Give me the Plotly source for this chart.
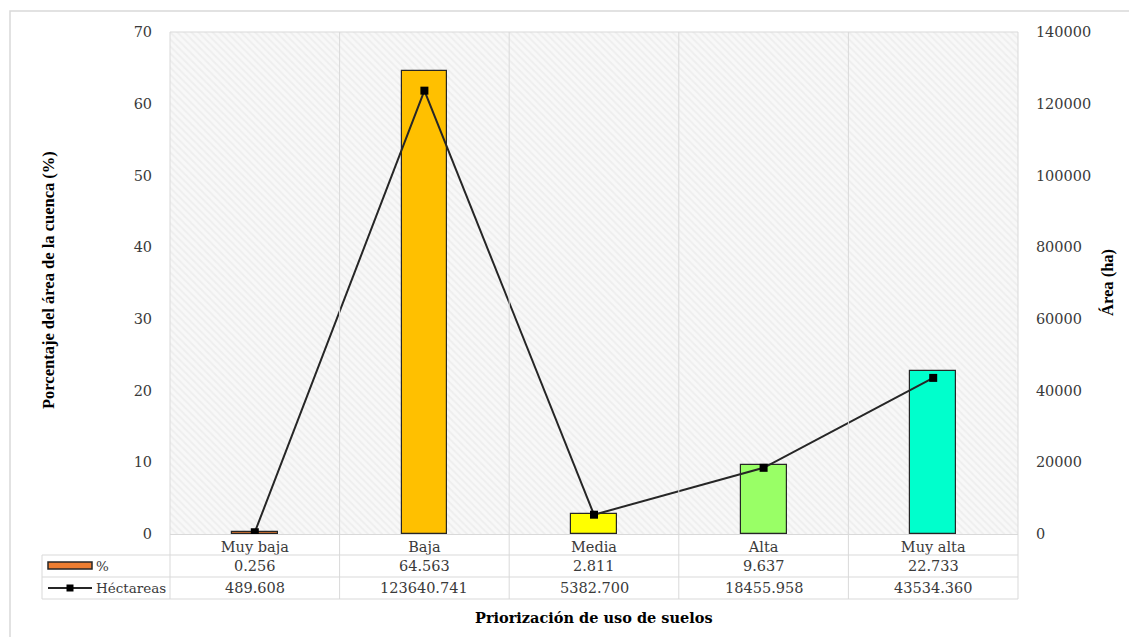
import plotly.graph_objects as go

categories = ["Muy baja", "Baja", "Media", "Alta", "Muy alta"]
pct_values = [0.256, 64.563, 2.811, 9.637, 22.733]
ha_values = [489.608, 123640.741, 5382.700, 18455.958, 43534.360]
bar_colors = ["#ED7D31", "#FFC000", "#FFFF00", "#99FF66", "#00FFCC"]
series_names = ["%", "Héctareas"]
left_ticks = [0, 10, 20, 30, 40, 50, 60, 70]
right_ticks = [0, 20000, 40000, 60000, 80000, 100000, 120000, 140000]

# page body has an 8px margin: figure is drawn 8px right/down of window origin
OFF = 8
W, H = 1137 - OFF, 637 - OFF
# plot area in window (screen) pixels
L, R, T, B = 170, 1018, 32, 534


def px(x):
    return (x - L) / (R - L)


def py(y):
    return (B - y) / (B - T)


FONT = "DejaVu Serif"
TFONT = "Liberation Serif"
FS = 14.5
GRID = "#d9d9d9"
TXT = "#3a3a3a"

fig = go.Figure()

# hatched plot background
fig.add_trace(go.Bar(
    x=[0.5], y=[1], width=[1], xaxis="x", yaxis="y",
    marker=dict(color="#f3f3f3", line=dict(width=0),
                pattern=dict(shape="\\", fgcolor="#e4e4e4", bgcolor="#f8f8f8",
                             size=5, solidity=0.35)),
    hoverinfo="skip", showlegend=False))

fig.add_trace(go.Bar(
    x=categories, y=pct_values, name=series_names[0], xaxis="x2", yaxis="y2",
    width=0.27, marker=dict(color=bar_colors, line=dict(color="#262626", width=1.2)),
    showlegend=False))

fig.add_trace(go.Scatter(
    x=categories, y=ha_values, name=series_names[1], xaxis="x2", yaxis="y3",
    mode="lines+markers", line=dict(color="#262626", width=2),
    marker=dict(symbol="square", size=8, color="#000000"),
    showlegend=False))

shapes = []
# vertical grid / table column lines
for i in range(6):
    shapes.append(dict(type="line", xref="paper", yref="paper",
                       x0=i / 5, x1=i / 5, y0=py(32), y1=py(599),
                       line=dict(color=GRID, width=1), layer="above"))
# table horizontal lines
for yy in [555, 577, 599]:
    shapes.append(dict(type="line", xref="paper", yref="paper",
                       x0=px(42), x1=px(1018), y0=py(yy), y1=py(yy),
                       line=dict(color=GRID, width=1), layer="above"))
shapes.append(dict(type="line", xref="paper", yref="paper",
                   x0=px(42), x1=px(42), y0=py(555), y1=py(599),
                   line=dict(color=GRID, width=1), layer="above"))
# plot top border
shapes.append(dict(type="line", xref="paper", yref="paper",
                   x0=0, x1=1, y0=py(32), y1=py(32),
                   line=dict(color=GRID, width=1), layer="above"))
# legend keys in table
shapes.append(dict(type="rect", xref="paper", yref="paper",
                   x0=px(48), x1=px(92), y0=py(562), y1=py(569),
                   fillcolor=bar_colors[0], line=dict(color="#262626", width=1.5), layer="above"))
shapes.append(dict(type="line", xref="paper", yref="paper",
                   x0=px(48), x1=px(92), y0=py(588), y1=py(588),
                   line=dict(color="#262626", width=2), layer="above"))
shapes.append(dict(type="rect", xref="paper", yref="paper",
                   x0=px(66.5), x1=px(73.5), y0=py(584.5), y1=py(591.5),
                   fillcolor="#000000", line=dict(color="#000000", width=0), layer="above"))
# outer chart frame
shapes.append(dict(type="rect", xref="paper", yref="paper",
                   x0=px(10), x1=px(1131), y0=py(11), y1=py(660),
                   line=dict(color=GRID, width=1.5), fillcolor="rgba(0,0,0,0)", layer="above"))

tf = dict(family=FONT, size=FS, color=TXT)
lf = dict(family=FONT, size=13.5, color=TXT)
annotations = []
for c, p, h in zip(categories, pct_values, ha_values):
    annotations.append(dict(x=c, xref="x2", yref="paper", y=py(566), text=f"{p:.3f}",
                            xanchor="center", yanchor="middle", showarrow=False, font=tf))
    annotations.append(dict(x=c, xref="x2", yref="paper", y=py(588), text=f"{h:.3f}",
                            xanchor="center", yanchor="middle", showarrow=False, font=tf))
annotations.append(dict(x=px(94), xref="paper", yref="paper", y=py(566), text=series_names[0],
                        xanchor="left", yanchor="middle", showarrow=False, font=lf))
annotations.append(dict(x=px(94), xref="paper", yref="paper", y=py(588), text=series_names[1],
                        xanchor="left", yanchor="middle", showarrow=False, font=lf))
annotations.append(dict(x=px(48), y=py(280), xref="paper", yref="paper", textangle=-90,
                        xanchor="center", yanchor="middle",
                        text="<b>Porcentaje del área de la cuenca (%)</b>", showarrow=False,
                        font=dict(family=TFONT, size=16.5, color="#000000")))
annotations.append(dict(x=px(1107), y=py(283), xref="paper", yref="paper", textangle=-90,
                        xanchor="center", yanchor="middle",
                        text="<b>Área (ha)</b>", showarrow=False,
                        font=dict(family=TFONT, size=16.5, color="#000000")))
annotations.append(dict(x=px(594), y=py(617), xref="paper", yref="paper",
                        xanchor="center", yanchor="middle",
                        text="<b>Priorización de uso de suelos</b>", showarrow=False,
                        font=dict(family=FONT, size=14.5, color="#000000")))

fig.update_layout(
    width=W, height=H,
    margin=dict(l=L - OFF, r=W - (R - OFF), t=T - OFF, b=H - (B - OFF), pad=0),
    paper_bgcolor="white", plot_bgcolor="white",
    font=dict(family=FONT, size=FS, color=TXT),
    bargap=0,
    xaxis=dict(range=[0, 1], visible=False, fixedrange=True),
    yaxis=dict(range=[0, 1], visible=False, fixedrange=True),
    xaxis2=dict(overlaying="x", type="category", showgrid=False, showline=True,
                linecolor=GRID, linewidth=1, ticks="outside", ticklen=0,
                tickcolor="rgba(0,0,0,0)", range=[-0.5, 4.5],
                tickfont=tf),
    yaxis2=dict(overlaying="y", side="left", range=[0, 70], tickvals=left_ticks,
                showgrid=True, gridcolor=GRID, gridwidth=1, zeroline=False,
                ticks="outside", ticklen=14, tickcolor="rgba(0,0,0,0)",
                tickfont=tf),
    yaxis3=dict(overlaying="y", side="right", anchor="x2", range=[0, 140000],
                tickvals=right_ticks, tickformat="d", showgrid=False, zeroline=False,
                ticks="outside", ticklen=14, tickcolor="rgba(0,0,0,0)",
                tickfont=tf),
    shapes=shapes, annotations=annotations,
)

fig.write_html("out.html")
